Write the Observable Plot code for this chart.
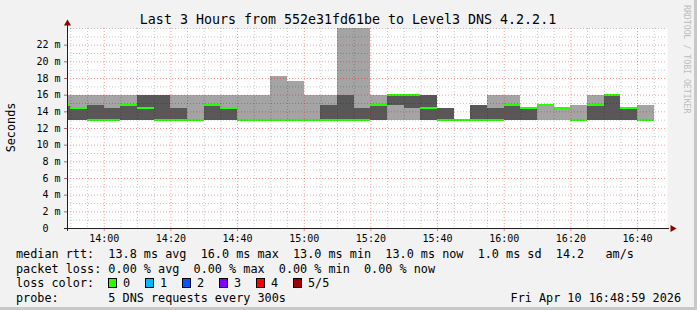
<!DOCTYPE html>
<html>
<head>
<meta charset="utf-8">
<script src="https://cdn.jsdelivr.net/npm/d3@7"></script>
<script src="https://cdn.jsdelivr.net/npm/@observablehq/plot@0.6"></script>
<style>
  html, body { margin: 0; padding: 0; background: #f2f2f2; }
  #wrap { position: relative; width: 697px; height: 310px; background: #f2f2f2; overflow: hidden; }
  #wrap > svg { position: absolute; left: 0; top: 0; }
  #edge { position: absolute; left: 0; top: 0; width: 694px; height: 307px;
          border-right: 3px solid #c8c8c8; border-bottom: 3px solid #c8c8c8; pointer-events: none; }
</style>
</head>
<body>
<div id="wrap"><div id="edge"></div></div>
<script>
// ---------- data (5-minute steps, start of each step, UTC) ----------
const intervalStart = ["13:45","13:50","13:55","14:00","14:05","14:10","14:15","14:20","14:25","14:30",
  "14:35","14:40","14:45","14:50","14:55","15:00","15:05","15:10","15:15","15:20",
  "15:25","15:30","15:35","15:40","15:45","15:50","15:55","16:00","16:05","16:10",
  "16:15","16:20","16:25","16:30","16:35","16:40"];
// sorted ping times (ms) of the 5 DNS requests per step
const ping1  = [13,13,13,13,13,13,13,13,13,13, 13,13,13,13,13,13,13,13,13,13, 13,13,13,13,13,13,13,13,13,13, 13,13,13,13,13,13];
const ping2  = [13,13,13,13,13,13,13,13,13,13, 13,13,13,13,13,13,13,13,13,13, 14.75,14.4,13,13,13,13,13,13,13,14.75, 14.4,13,13,13,13,13];
const median = [14.75,14.4,13,13,14.75,14.4,13,13,13,14.75, 14.4,13,13,13,13,13,13,13,13,14.75, 16,16,14.4,13,13,13,13,14.75,14.4,14.75, 14.4,13,14.75,16,14.4,13];
const ping4  = [14.75,14.4,14.75,14.4,14.75,16,16,14.4,13,14.75, 14.4,13,13,13,13,13,14.75,16,14.4,14.75, 16,16,16,14.4,13,14.75,14.4,14.75,14.4,14.75, 14.4,13,14.75,16,14.4,13];
const ping5  = [16,16,16,16,16,16,16,16,16,16, 16,16,16,18.3,17.7,16,16,24,24,16, 16,16,16,14.4,13,14.75,16,16,14.4,14.75, 14.4,14.75,16,16,14.4,14.75];

const yLabels = [0,2,4,6,8,10,12,14,16,18,20,22];
const title = "Last 3 Hours from 552e31fd61be to Level3 DNS 4.2.2.1";
const legendRtt  = "median rtt:  13.8 ms avg  16.0 ms max  13.0 ms min  13.0 ms now  1.0 ms sd  14.2   am/s";
const legendLoss = "packet loss: 0.00 % avg  0.00 % max  0.00 % min  0.00 % now";
const lossLabels = ["0","1","2","3","4","5/5"];
const lossColors = ["#26ff00","#00b8ff","#0059ff","#7e00ff","#ff0000","#a10000"];
const probeText = "probe:       5 DNS requests every 300s";
const stampText = "Fri Apr 10 16:48:59 2026";
const sideText = "RRDTOOL / TOBI OETIKER";

// ---------- build ----------
const T = s => { const [h, m] = s.split(":").map(Number); return new Date(Date.UTC(2026, 3, 10, h, m)); };
const start = new Date(Date.UTC(2026, 3, 10, 13, 48, 59));
const end   = new Date(Date.UTC(2026, 3, 10, 16, 48, 59));
const STEP = 300000;
const rows = intervalStart.map((s, i) => ({
  x1: T(s), x2: new Date(+T(s) + STEP),
  p1: ping1[i], p2: ping2[i], med: median[i], p4: ping4[i], p5: ping5[i]
}));

const fiveMin = d3.utcMinute.every(5).range(start, end);
const majorX = fiveMin.filter(d => d.getUTCMinutes() % 20 === 0);
const minorX = fiveMin.filter(d => d.getUTCMinutes() % 20 !== 0);
const majorY = d3.range(2, 24, 2);
const minorY = d3.range(1, 25, 2).concat([24]);
const half = 0.12; // half a pixel-row of the median band, in ms

const plot = Plot.plot({
  width: 697, height: 310,
  marginLeft: 67, marginRight: 30, marginTop: 28, marginBottom: 82,
  x: { type: "utc", domain: [start, end] },
  y: { domain: [0, 24] },
  style: { background: "transparent", fontFamily: "DejaVu Sans Mono", fontSize: "10px", color: "#000", overflow: "visible" },
  marks: [
    Plot.frame({ fill: "white", stroke: null }),
    Plot.rect(rows, { x1: "x1", x2: "x2", y1: "p1", y2: "p5", fill: "#a4a4a4", clip: true, shapeRendering: "crispEdges" }),
    Plot.rect(rows, { x1: "x1", x2: "x2", y1: "p2", y2: "p4", fill: "#585858", clip: true, shapeRendering: "crispEdges" }),
    Plot.rect(rows, { x1: "x1", x2: "x2", y1: d => d.med - half, y2: d => d.med + half, fill: "#26ff00", clip: true, shapeRendering: "crispEdges" }),
    Plot.ruleX(minorX, { stroke: "#000", strokeOpacity: 0.22, strokeDasharray: "1,2" }),
    Plot.ruleY(minorY, { stroke: "#000", strokeOpacity: 0.22, strokeDasharray: "1,2" }),
    Plot.ruleX(majorX, { stroke: "#ff0000", strokeOpacity: 0.4, strokeDasharray: "1,2" }),
    Plot.ruleY(majorY, { stroke: "#ff0000", strokeOpacity: 0.4, strokeDasharray: "1,2" }),
    Plot.axisX({ ticks: majorX, tickFormat: d3.utcFormat("%H:%M"), tickSize: 3, tickPadding: 3, stroke: "#f08080", fontSize: 10 }),
    Plot.axisY({ ticks: yLabels, tickFormat: d => String(d), tickSize: 3, tickPadding: 16, stroke: "#c06060", fontSize: 10 }),
    Plot.text(yLabels.filter(v => v > 0), { x: start, y: d => d, text: () => "m", dx: -10, textAnchor: "middle", fontSize: 10 }),
    Plot.ruleX([start], { y1: -0.35, y2: 24.4, stroke: "#202020" }),
    Plot.ruleY([0], { x1: new Date(+start - 54000), x2: new Date(+end + 36000), stroke: "#202020" }),
    Plot.dot([24], { x: start, y: d => d, dy: -5, symbol: "triangle", r: 2.6, fill: "#8b0000", stroke: null }),
    Plot.dot([0], { x: end, y: d => d, dx: 5, symbol: "triangle", rotate: 90, r: 2.6, fill: "#8b0000", stroke: null })
  ]
});
const wrap = document.getElementById("wrap");
wrap.insertBefore(plot, wrap.firstChild);

// ---------- texts around the graph ----------
const svg = d3.select(wrap).append("svg").attr("width", 697).attr("height", 310)
  .style("font-family", "DejaVu Sans Mono").style("white-space", "pre");
svg.append("text").attr("x", 348).attr("y", 24).attr("text-anchor", "middle")
  .attr("font-size", "13.3px").attr("fill", "#000").text(title);
svg.append("text").attr("transform", "translate(15,127.5) rotate(-90)").attr("text-anchor", "middle")
  .attr("font-size", "11.8px").attr("fill", "#000").text("Seconds");
svg.append("text").attr("transform", "translate(684,5) rotate(90)").attr("text-anchor", "start")
  .attr("font-size", "8.2px").attr("fill", "#bdbdbd").text(sideText);

const lg = svg.append("g").attr("font-size", "11.8px").attr("fill", "#000");
lg.append("text").attr("x", 16).attr("y", 258).attr("xml:space", "preserve").text(legendRtt);
lg.append("text").attr("x", 16).attr("y", 272.5).attr("xml:space", "preserve").text(legendLoss);
lg.append("text").attr("x", 16).attr("y", 287).attr("xml:space", "preserve").text("loss color:");
lossLabels.forEach((l, i) => {
  const bx = 108 + i * 37;
  lg.append("rect").attr("x", bx + 0.5).attr("y", 278.5).attr("width", 8).attr("height", 9)
    .attr("fill", lossColors[i]).attr("stroke", "#000").attr("stroke-width", 1);
  lg.append("text").attr("x", bx + 15).attr("y", 287).text(l);
});
lg.append("text").attr("x", 16).attr("y", 301.5).attr("xml:space", "preserve").text(probeText);
lg.append("text").attr("x", 681).attr("y", 301.5).attr("text-anchor", "end").text(stampText);
</script>
</body>
</html>
